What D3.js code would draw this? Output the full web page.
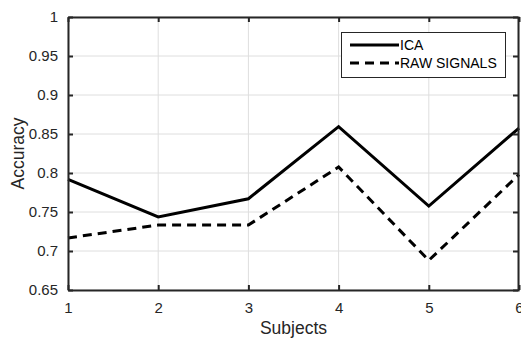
<!DOCTYPE html>
<html>
<head>
<meta charset="utf-8">
<script src="https://cdn.jsdelivr.net/npm/d3@7"></script>
<style>
  body { margin: 0; background: #fff; }
  text { font-family: "Liberation Sans", Arial, sans-serif; }
</style>
</head>
<body>
<svg id="chart" width="521" height="338"></svg>
<script>
// data
const subjects = [1, 2, 3, 4, 5, 6];
const icaAcc = [0.7917, 0.7436, 0.767, 0.8594, 0.7576, 0.8576];
const rawAcc = [0.7167, 0.7333, 0.7333, 0.8077, 0.688, 0.798];
const yTicks = [0.65, 0.7, 0.75, 0.8, 0.85, 0.9, 0.95, 1];

const margin = {top: 17, left: 68, right: 2, bottom: 48};
const width = 521, height = 338;
const axisColor = "#262626";

const svg = d3.select("#chart");

const x = d3.scaleLinear().domain([1, 6]).range([margin.left, width - margin.right]);
const y = d3.scaleLinear().domain([0.65, 1]).range([height - margin.bottom, margin.top]);

const g = svg.append("g");

// grid
g.selectAll(".gx").data(subjects).join("line")
    .attr("x1", d => x(d)).attr("x2", d => x(d))
    .attr("y1", y(0.65)).attr("y2", y(1))
    .attr("stroke", "#dedede").attr("stroke-width", 1);
g.selectAll(".gy").data(yTicks).join("line")
    .attr("y1", d => y(d)).attr("y2", d => y(d))
    .attr("x1", x(1)).attr("x2", x(6))
    .attr("stroke", "#dedede").attr("stroke-width", 1);

// lines
const line = d3.line().x((d, i) => x(subjects[i])).y(d => y(d));

g.append("path").datum(rawAcc)
    .attr("d", line)
    .attr("fill", "none").attr("stroke", "#000")
    .attr("stroke-width", 3).attr("stroke-dasharray", "9,6");

g.append("path").datum(icaAcc)
    .attr("d", line)
    .attr("fill", "none").attr("stroke", "#000")
    .attr("stroke-width", 3);

// axes (inward ticks, box on)
const yAxisL = d3.axisLeft(y).tickValues(yTicks).tickSize(-5).tickSizeOuter(0).tickPadding(10).tickFormat(d3.format("~g"));
const yAxisR = d3.axisRight(y).tickValues(yTicks).tickSize(-5).tickSizeOuter(0).tickFormat("");
const xAxisB = d3.axisBottom(x).tickValues(subjects).tickSize(-5).tickSizeOuter(0).tickPadding(12).tickFormat(d3.format("d"));
const xAxisT = d3.axisTop(x).tickValues(subjects).tickSize(-5).tickSizeOuter(0).tickFormat("");

function styleAxis(sel) {
  sel.select(".domain").attr("stroke", axisColor).attr("stroke-width", 2);
  sel.selectAll(".tick line").attr("stroke", axisColor).attr("stroke-width", 2);
  sel.selectAll(".tick text").attr("fill", axisColor).style("font-size", "15px")
     .style("font-family", "'Liberation Sans', Arial, sans-serif");
}

svg.append("g").attr("transform", `translate(${x(1)},0)`).call(yAxisL).call(styleAxis);
svg.append("g").attr("transform", `translate(${x(6) - 1},0)`).call(yAxisR).call(styleAxis);
svg.append("g").attr("transform", `translate(0,${y(0.65)})`).call(xAxisB).call(styleAxis);
svg.append("g").attr("transform", `translate(0,${y(1)})`).call(xAxisT).call(styleAxis);

// axis labels
svg.append("text")
    .attr("x", (x(1) + x(6)) / 2).attr("y", 333.5)
    .attr("text-anchor", "middle").attr("fill", axisColor)
    .style("font-size", "17.5px").text("Subjects");
svg.append("text")
    .attr("transform", `translate(24,${(y(0.65) + y(1)) / 2}) rotate(-90)`)
    .attr("text-anchor", "middle").attr("fill", axisColor)
    .style("font-size", "17.5px").text("Accuracy");

// legend
const lg = svg.append("g");
lg.append("rect")
    .attr("x", 341.5).attr("y", 32.5).attr("width", 164).attr("height", 45)
    .attr("fill", "#fff").attr("stroke", axisColor).attr("stroke-width", 1);
const legendItems = [{name: "ICA", dash: null}, {name: "RAW SIGNALS", dash: "9,6"}];
legendItems.forEach((it, i) => {
  const cy = 45 + i * 18;
  lg.append("line")
      .attr("x1", 350).attr("x2", 399).attr("y1", cy).attr("y2", cy)
      .attr("stroke", "#000").attr("stroke-width", 3)
      .attr("stroke-dasharray", it.dash);
  lg.append("text")
      .attr("x", 400).attr("y", cy).attr("dy", "0.36em")
      .attr("fill", "#000").style("font-size", "14px").text(it.name);
});
</script>
</body>
</html>
